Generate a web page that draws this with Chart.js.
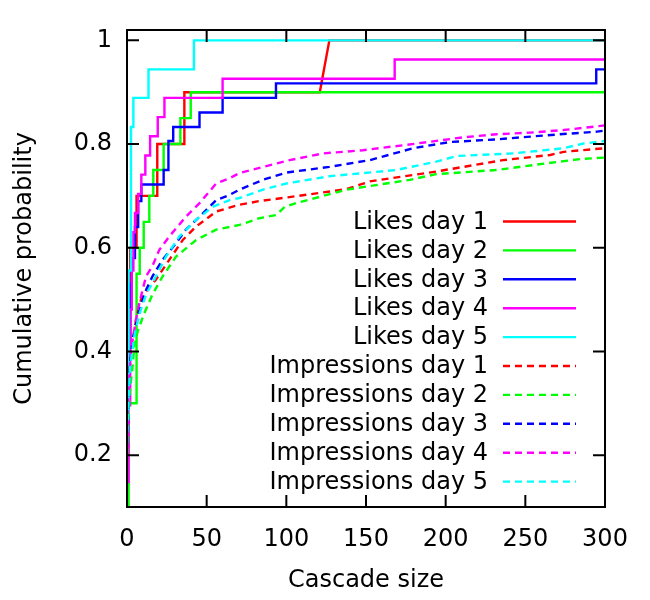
<!DOCTYPE html>
<html>
<head>
<meta charset="utf-8">
<script src="https://cdn.jsdelivr.net/npm/chart.js@4.4.0/dist/chart.umd.min.js"></script>
<style>
  html, body { margin: 0; padding: 0; background: #fff; }
</style>
</head>
<body>
<canvas id="myChart" width="650" height="600"></canvas>
<script>
// series labels and colours
var seriesLabels = [
  'Likes day 1', 'Likes day 2', 'Likes day 3', 'Likes day 4', 'Likes day 5',
  'Impressions day 1', 'Impressions day 2', 'Impressions day 3', 'Impressions day 4', 'Impressions day 5'
];
var dayColors = ['#ff0000', '#00ff00', '#0000ff', '#ff00ff', '#00ffff'];

// likes day 1 is given point by point (its last jump is a slanted segment)
var likesDay1Size = [0, 1, 1, 2, 2, 6, 6, 19, 19, 36, 36, 121, 127, 300];
var likesDay1Prob = [0.2, 0.2, 0.4, 0.4, 0.6, 0.6, 0.7, 0.7, 0.8, 0.8, 0.9, 0.9, 1.0, 1.0];
// other likes: cascade size where each step is reached, cumulative probability after it
var likesDay2Size = [0, 1, 6, 8, 10.5, 14, 16.5, 23, 33.5, 40, 300];
var likesDay2Prob = [0.05, 0.3, 0.55, 0.6, 0.65, 0.7, 0.75, 0.8, 0.85, 0.9, 0.9];
var likesDay3Size = [0, 1, 2, 3, 5, 7, 9, 23, 26, 29, 45.5, 60, 93.5, 294.5, 300];
var likesDay3Prob = [0.25, 0.42, 0.53, 0.58, 0.64, 0.69, 0.722, 0.75, 0.806, 0.833, 0.861, 0.889, 0.917, 0.944, 0.944];
var likesDay4Size = [0, 1, 2, 3, 4, 5, 7, 9, 11.5, 14.5, 19.3, 23.5, 60, 168, 300];
var likesDay4Prob = [0.148, 0.296, 0.481, 0.556, 0.63, 0.667, 0.704, 0.741, 0.778, 0.815, 0.852, 0.889, 0.926, 0.963, 0.963];
var likesDay5Size = [0, 1, 2.5, 4, 13.5, 42, 300];
var likesDay5Prob = [0.278, 0.556, 0.833, 0.889, 0.944, 1.0, 1.0];

// impressions
var impDay1Size = [0, 1, 2, 3.5, 5.7, 8.8, 13, 18, 26.6, 35, 43.4, 56, 70.6, 83, 98, 137.7, 152.4, 194, 236, 265.6, 274, 300];
var impDay1Prob = [0.22, 0.32, 0.38, 0.417, 0.462, 0.5, 0.52, 0.538, 0.577, 0.615, 0.641, 0.67, 0.683, 0.69, 0.696, 0.713, 0.728, 0.747, 0.769, 0.779, 0.785, 0.792];
var impDay2Size = [0, 1, 2, 3.5, 4.6, 6.7, 10.9, 16, 22.4, 30.8, 43.4, 56, 70.6, 83, 93.6, 99, 106, 137.7, 177.5, 194, 232, 263.5, 284.5, 300];
var impDay2Prob = [0.2, 0.28, 0.33, 0.372, 0.41, 0.439, 0.474, 0.51, 0.545, 0.583, 0.615, 0.635, 0.644, 0.657, 0.663, 0.679, 0.686, 0.712, 0.731, 0.742, 0.75, 0.763, 0.771, 0.774];
var impDay3Size = [0, 1, 2, 4, 7.7, 12, 16, 22.4, 30.8, 37, 45.5, 56, 64.4, 70.6, 85.3, 100, 127, 152.4, 179.6, 202.7, 232, 263.5, 295, 300];
var impDay3Prob = [0.22, 0.32, 0.38, 0.43, 0.48, 0.519, 0.545, 0.577, 0.609, 0.635, 0.66, 0.692, 0.702, 0.712, 0.731, 0.745, 0.756, 0.769, 0.792, 0.804, 0.809, 0.817, 0.824, 0.826];
var impDay4Size = [0, 1, 2.5, 4.6, 6.7, 9.8, 12, 16, 20.3, 26.6, 37, 45.5, 56, 64.4, 70.6, 102, 123, 148, 181.7, 211, 232, 253, 274, 300];
var impDay4Prob = [0.25, 0.33, 0.404, 0.442, 0.48, 0.519, 0.545, 0.565, 0.596, 0.622, 0.66, 0.686, 0.724, 0.734, 0.744, 0.769, 0.782, 0.788, 0.801, 0.813, 0.819, 0.822, 0.827, 0.836];
var impDay5Size = [0, 1, 2, 4.6, 7.7, 12, 18.2, 24.5, 32.9, 43.4, 53.8, 64.4, 70.6, 85.3, 100, 127, 169, 194, 207, 242.5, 274, 286.5, 300];
var impDay5Prob = [0.22, 0.31, 0.37, 0.43, 0.471, 0.51, 0.545, 0.583, 0.622, 0.654, 0.679, 0.692, 0.696, 0.712, 0.724, 0.738, 0.75, 0.766, 0.777, 0.782, 0.792, 0.801, 0.806];

// axes
var xTickValues = [0, 50, 100, 150, 200, 250, 300];
var yTickValues = [0.2, 0.4, 0.6, 0.8, 1];

var likesSizes = [likesDay1Size, likesDay2Size, likesDay3Size, likesDay4Size, likesDay5Size];
var likesProbs = [likesDay1Prob, likesDay2Prob, likesDay3Prob, likesDay4Prob, likesDay5Prob];
var impSizes = [impDay1Size, impDay2Size, impDay3Size, impDay4Size, impDay5Size];
var impProbs = [impDay1Prob, impDay2Prob, impDay3Prob, impDay4Prob, impDay5Prob];

var fontFamily = '"DejaVu Sans", Verdana, sans-serif';
var lineW = 2.4;

function toPoints(sizes, probs) {
  var pts = [];
  for (var i = 0; i < sizes.length; i++) {
    pts.push({ x: sizes[i], y: probs[i] });
  }
  return pts;
}

var datasets = [];
for (var i = 0; i < 5; i++) {
  datasets.push({
    label: seriesLabels[i],
    data: toPoints(likesSizes[i], likesProbs[i]),
    borderColor: dayColors[i],
    borderWidth: lineW,
    stepped: i === 0 ? false : 'before',
    pointRadius: 0,
    tension: 0,
    fill: false,
    order: 10 - i
  });
}
for (var i = 0; i < 5; i++) {
  datasets.push({
    label: seriesLabels[i + 5],
    data: toPoints(impSizes[i], impProbs[i]),
    borderColor: dayColors[i],
    borderWidth: lineW,
    borderDash: [7, 5],
    pointRadius: 0,
    tension: 0,
    fill: false,
    order: 5 - i
  });
}

// box round the plot with inward ticks on all four sides, gnuplot style
var framePlugin = {
  id: 'frame',
  afterDatasetsDraw: function(chart) {
    var c = chart.ctx, a = chart.chartArea;
    var xs = chart.scales.x, ys = chart.scales.y;
    var len = 12;
    c.save();
    c.strokeStyle = '#000';
    c.lineWidth = 2;
    c.beginPath();
    xTickValues.forEach(function(v) {
      var px = xs.getPixelForValue(v);
      c.moveTo(px, a.bottom); c.lineTo(px, a.bottom - len);
      c.moveTo(px, a.top); c.lineTo(px, a.top + len);
    });
    yTickValues.forEach(function(v) {
      var py = ys.getPixelForValue(v);
      c.moveTo(a.left, py); c.lineTo(a.left + len, py);
      c.moveTo(a.right, py); c.lineTo(a.right - len, py);
    });
    c.stroke();
    c.strokeRect(a.left, a.top, a.right - a.left, a.bottom - a.top);
    c.restore();
  }
};

// key inside the plot: text right aligned, line sample to its right
var keyPlugin = {
  id: 'key',
  afterDatasetsDraw: function(chart) {
    var c = chart.ctx;
    var textRight = 488, lineStart = 503, lineEnd = 576;
    var rowTop = 221.5, rowStep = 28.9;
    c.save();
    c.font = '24px ' + fontFamily;
    c.textAlign = 'right';
    c.textBaseline = 'middle';
    chart.data.datasets.forEach(function(ds, i) {
      var y = rowTop + i * rowStep;
      c.fillStyle = '#000';
      c.fillText(ds.label, textRight, y + 1);
      c.strokeStyle = ds.borderColor;
      c.lineWidth = lineW;
      c.setLineDash(ds.borderDash || []);
      c.beginPath();
      c.moveTo(lineStart, y);
      c.lineTo(lineEnd, y);
      c.stroke();
    });
    c.restore();
  }
};

var ctx = document.getElementById('myChart');
new Chart(ctx, {
  type: 'line',
  data: { datasets: datasets },
  options: {
    responsive: false,
    animation: false,
    layout: { padding: { top: 30, right: 45, left: 0, bottom: 0 } },
    plugins: {
      legend: { display: false },
      tooltip: { enabled: false },
      title: { display: false }
    },
    scales: {
      x: {
        type: 'linear',
        min: 0,
        max: 300,
        afterFit: function(s) { s.height = 93; },
        afterBuildTicks: function(s) { s.ticks = xTickValues.map(function(v) { return { value: v }; }); },
        grid: { display: false, drawTicks: false },
        border: { display: false },
        ticks: {
          padding: 18,
          maxRotation: 0,
          color: '#000',
          font: { family: fontFamily, size: 24 }
        },
        title: {
          display: true,
          text: 'Cascade size',
          color: '#000',
          font: { family: fontFamily, size: 24 },
          padding: { top: 0, bottom: 5 }
        }
      },
      y: {
        type: 'linear',
        min: 0.1,
        max: 1.02,
        afterFit: function(s) { s.width = 127; },
        afterBuildTicks: function(s) { s.ticks = yTickValues.map(function(v) { return { value: v }; }); },
        grid: { display: false, drawTicks: false },
        border: { display: false },
        ticks: {
          padding: 15,
          color: '#000',
          font: { family: fontFamily, size: 24 },
          callback: function(v) { return String(v); }
        },
        title: {
          display: true,
          text: 'Cumulative probability',
          color: '#000',
          font: { family: fontFamily, size: 24 },
          padding: { top: 10, bottom: 0 }
        }
      }
    }
  },
  plugins: [framePlugin, keyPlugin]
});
</script>
</body>
</html>
